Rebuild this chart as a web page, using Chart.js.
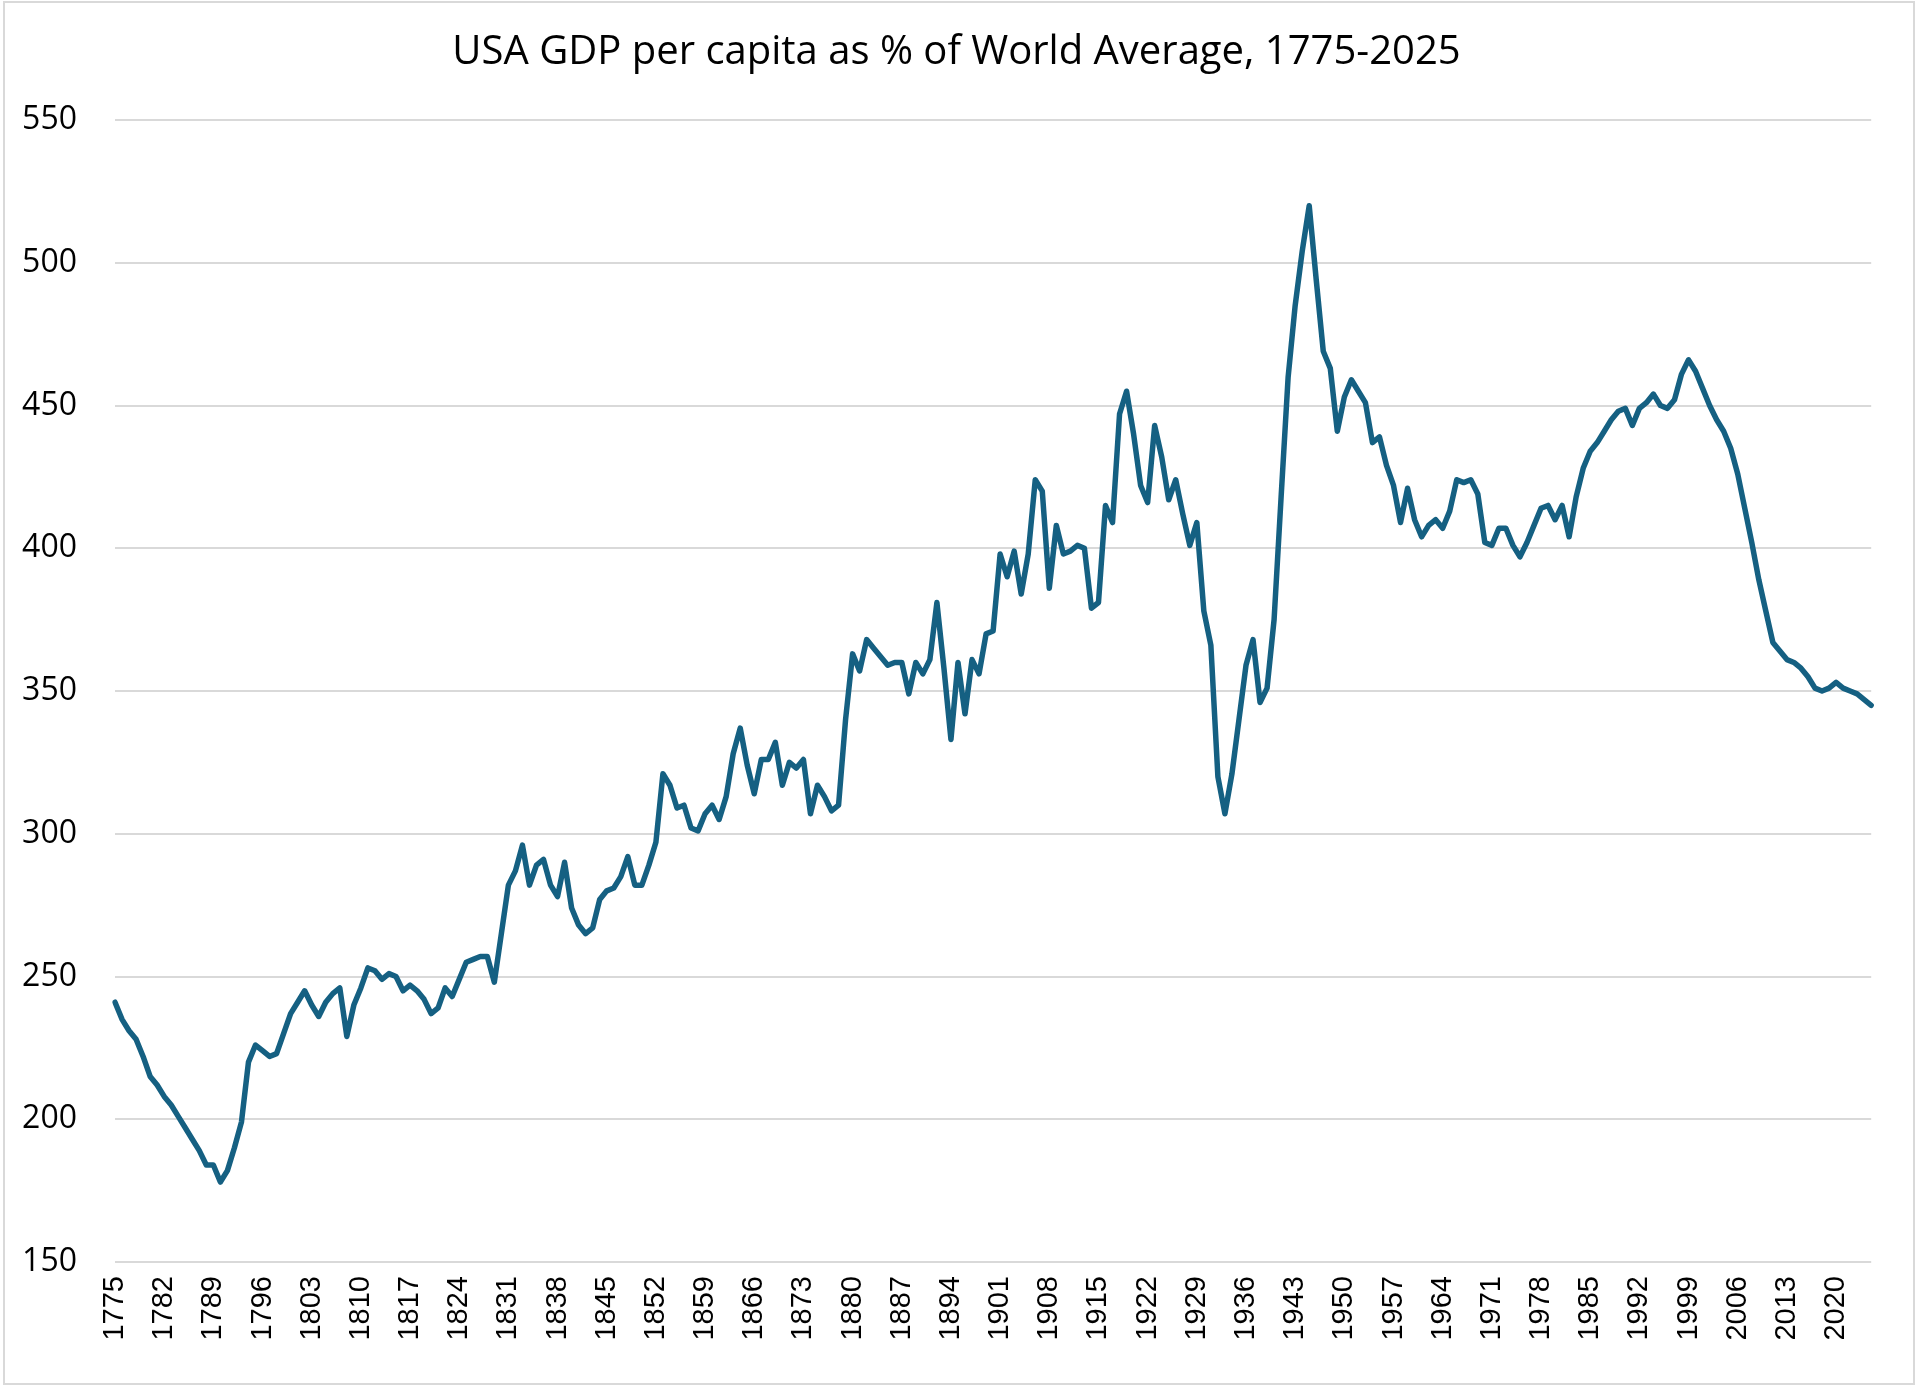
<!DOCTYPE html>
<html>
<head>
<meta charset="utf-8">
<script src="https://cdn.jsdelivr.net/npm/chart.js@4.4.1/dist/chart.umd.min.js"></script>
<style>
  html, body { margin: 0; padding: 0; background: #ffffff; }
  #wrap { position: relative; width: 1920px; height: 1392px; }
  #c { position: absolute; left: 0; top: 0; }
  #frame { position: absolute; left: 3px; top: 1px; width: 1912px; height: 1384px; border: 2px solid #d9d9d9; pointer-events: none; box-sizing: border-box; }
</style>
</head>
<body>
<div id="wrap">
  <canvas id="c" width="1920" height="1392"></canvas>
  <div id="frame"></div>
</div>
<script>
// ---- Data ----
const titleText = "USA GDP per capita as % of World Average, 1775-2025";
const firstYear = 1775;
const lastYear = 2025;
const labelEvery = 7;
const yTicks = [150, 200, 250, 300, 350, 400, 450, 500, 550];

const pct1775_1824 = [
  241,235,231,228,222,215,212,208,205,201,
  197,193,189,184,184,178,182,190,199,220,
  226,224,222,223,230,237,241,245,240,236,
  241,244,246,229,240,246,253,252,249,251,
  250,245,247,245,242,237,239,246,243,249
];
const pct1825_1874 = [
  255,256,257,257,248,265,282,287,296,282,
  289,291,282,278,290,274,268,265,267,277,
  280,281,285,292,282,282,289,297,321,317,
  309,310,302,301,307,310,305,313,328,337,
  324,314,326,326,332,317,325,323,326,307
];
const pct1875_1924 = [
  317,313,308,310,340,363,357,368,365,362,
  359,360,360,349,360,356,361,381,358,333,
  360,342,361,356,370,371,398,390,399,384,
  398,424,420,386,408,398,399,401,400,379,
  381,415,409,447,455,440,422,416,443,432
];
const pct1925_1974 = [
  417,424,412,401,409,378,366,320,307,321,
  340,359,368,346,351,375,418,460,485,504,
  520,494,469,463,441,453,459,455,451,437,
  439,429,422,409,421,410,404,408,410,407,
  413,424,423,424,419,402,401,407,407,401
];
const pct1975_2025 = [
  397,402,408,414,415,410,415,404,418,428,
  434,437,441,445,448,449,443,449,451,454,
  450,449,452,461,466,462,456,450,445,441,
  435,426,414,402,389,378,367,364,361,360,
  358,355,351,350,351,353,351,350,349,347,
  345
];

const years = [];
for (let y = firstYear; y <= lastYear; y++) years.push(String(y));
const values = [].concat(pct1775_1824, pct1825_1874, pct1875_1924, pct1925_1974, pct1975_2025);

// ---- Chart ----
new Chart(document.getElementById('c'), {
  type: 'line',
  data: {
    labels: years,
    datasets: [{
      data: values,
      yAxisID: 'y',
      borderColor: '#156082',
      borderWidth: 5.5,
      pointRadius: 0,
      tension: 0,
      fill: false,
      borderJoinStyle: 'round',
      borderCapStyle: 'round'
    }]
  },
  options: {
    responsive: false,
    animation: false,
    devicePixelRatio: 1,
    layout: { padding: { left: 0, right: 7, top: 0, bottom: 0 } },
    plugins: {
      legend: { display: false },
      tooltip: { enabled: false },
      title: {
        display: true,
        text: titleText,
        color: '#000000',
        font: { family: 'Open Sans', size: 40, weight: 'normal', lineHeight: 1.2 },
        padding: { top: 29, bottom: 43 }
      }
    },
    scales: {
      x: {
        type: 'category',
        offset: false,
        grid: { display: false, drawTicks: false },
        border: { display: false },
        ticks: {
          autoSkip: false,
          maxRotation: 90,
          minRotation: 90,
          padding: 14,
          color: '#000000',
          font: { family: 'Liberation Sans', size: 29 },
          callback: function(val, idx) {
            return (idx % labelEvery === 0) ? this.getLabelForValue(val) : '';
          }
        },
        afterFit: function(scale) { scale.height = 130; }
      },
      y: {
        position: 'left',
        min: yTicks[0],
        max: yTicks[yTicks.length - 1],
        afterBuildTicks: function(scale) { scale.ticks = yTicks.map(v => ({ value: v })); },
        grid: { color: '#d9d9d9', lineWidth: 2, drawTicks: false },
        border: { display: false },
        ticks: {
          padding: 38,
          color: '#000000',
          font: { family: 'Open Sans', size: 32 }
        },
        afterFit: function(scale) { scale.width = 115; }
      },
      ySpacer: {
        position: 'right',
        display: true,
        min: yTicks[0],
        max: yTicks[yTicks.length - 1],
        grid: { display: false, drawTicks: false },
        border: { display: false },
        ticks: { display: false },
        afterFit: function(scale) { scale.width = 34; }
      }
    }
  }
});
</script>
</body>
</html>
